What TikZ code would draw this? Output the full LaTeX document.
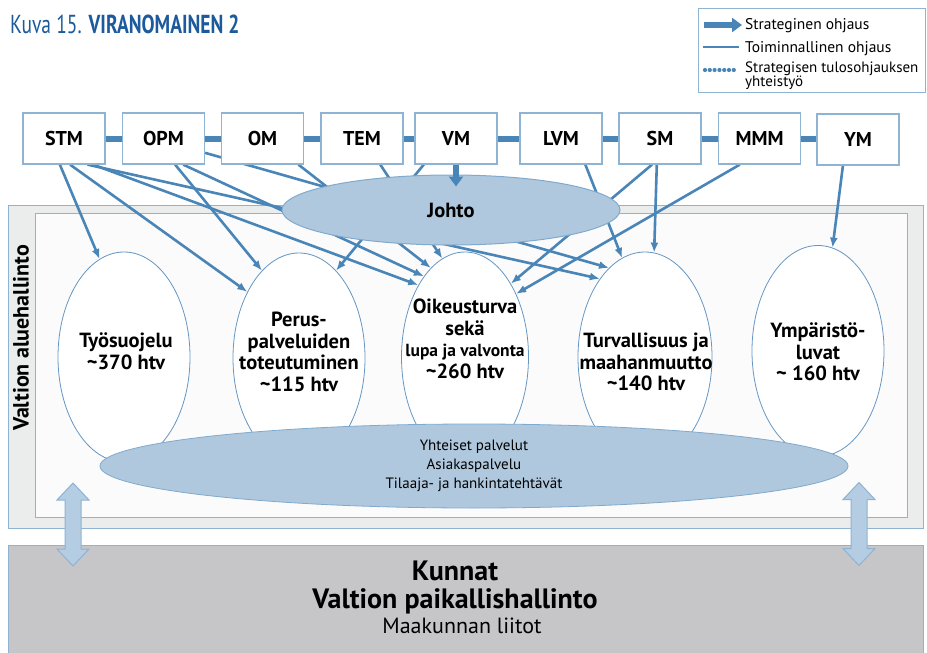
\documentclass[tikz,border=0pt]{standalone}
\usepackage{fontspec}
\setmainfont{PT Sans}
\newfontfamily\narrowfont[FakeStretch=0.75]{PT Sans}
\usetikzlibrary{shapes.geometric,arrows.meta}
\definecolor{lineblue}{RGB}{74,133,184}
\definecolor{edgeblue}{RGB}{143,179,211}
\definecolor{paleblue}{RGB}{175,200,221}
\definecolor{arrowfill}{RGB}{180,205,226}
\definecolor{titleblue}{RGB}{28,90,155}
\definecolor{panelgray}{RGB}{235,237,237}
\definecolor{innergray}{RGB}{251,251,251}
\definecolor{basegray}{RGB}{198,198,200}
\pgfdeclarelayer{bg}
\pgfdeclarelayer{lines}
\pgfsetlayers{bg,lines,main}

\begin{document}
\begin{tikzpicture}[x=1pt,y=-1pt,
  ministry/.style={draw=edgeblue,fill=white,line width=1.2pt,minimum width=82pt,minimum height=51pt,inner sep=0pt,font=\fontsize{20}{22}\selectfont\bfseries},
  unit/.style={ellipse,draw=lineblue!85,fill=white,line width=0.8pt,minimum width=132pt,minimum height=210pt,inner sep=0pt},
  utext/.style={align=center,inner sep=0pt,font=\fontsize{20.5}{21.5}\selectfont\bfseries},
  oper/.style={lineblue,line width=2.6pt,-{Latex[length=10pt,width=8pt]}},
  strat/.style={lineblue,line width=6pt,-{Triangle[length=10pt,width=14pt]}},
  bar/.style={lineblue,line width=6pt},
  legtext/.style={anchor=base west,inner sep=0pt,font=\fontsize{15.5}{16}\selectfont},
  updown/.style={draw=edgeblue,fill=arrowfill,line width=1pt,line join=miter}]
\useasboundingbox (0,0) rectangle (927,653);

\node[anchor=base west,inner sep=0pt,text=titleblue,font=\narrowfont\fontsize{26}{28}\selectfont] (title) at (10,33) {Kuva 15. \textbf{VIRANOMAINEN 2}};

\node[draw=edgeblue,line width=1pt,minimum width=227pt,minimum height=84pt,anchor=north west] (legend) at (698,8) {};
\coordinate (sa) at (704,25);
\coordinate (sb) at (742,25);
\coordinate (ta) at (703,47);
\coordinate (tb) at (739,47);
\coordinate (ya) at (705,70);
\coordinate (yb) at (737,70);
\draw[strat] (sa) -- (sb);
\draw[lineblue,line width=2.6pt] (ta) -- (tb);
\draw[lineblue,line width=4.2pt,line cap=round,dash pattern=on 0pt off 4.8pt] (ya) -- (yb);
\node[legtext] (leg1) at (745,30) {Strateginen ohjaus};
\node[legtext] (leg2) at (745,52) {Toiminnallinen ohjaus};
\node[legtext,anchor=north west,align=left,font=\fontsize{15}{14}\selectfont] (leg3) at (745,62) {Strategisen tulosohjauksen\\yhteistyö};

\begin{pgfonlayer}{bg}
\node[draw=edgeblue,fill=panelgray,line width=1.2pt,minimum width=915pt,minimum height=323pt,anchor=north west] (outer) at (8,205) {};
\node[draw=edgeblue,fill=innergray,line width=1.2pt,minimum width=872pt,minimum height=304pt,anchor=north west] (inner) at (35,213) {};
\node[draw=edgeblue,fill=basegray,line width=1.2pt,minimum width=915pt,minimum height=130pt,anchor=north west] (kunnat) at (8,545) {};
\node[unit] (tyo) at (124,357) {};
\node[unit] (per) at (299,358) {};
\node[unit,minimum width=127pt] (oik) at (465,357) {};
\node[unit,minimum width=134pt] (tur) at (645,357) {};
\node[unit,minimum height=211pt] (ymp) at (818,351) {};
\node[ellipse,draw=lineblue!70,fill=paleblue,line width=0.8pt,minimum width=748pt,minimum height=84pt,inner sep=0pt,align=center,font=\fontsize{15}{19}\selectfont] (yht) at (474,466) {Yhteiset palvelut\\Asiakaspalvelu\\Tilaaja- ja hankintatehtävät};
\end{pgfonlayer}

\node[rotate=90,inner sep=0pt,font=\fontsize{22}{24}\selectfont\bfseries] (alue) at (21,338) {Valtion aluehallinto};

\node[utext] (tyotxt) at (126,351) {Työsuojelu\\\textasciitilde370 htv};
\node[utext] (pertxt) at (299,352) {Perus-\\palveluiden\\toteutuminen\\\textasciitilde115 htv};
\node[utext] (oiktxt) at (465,339) {Oikeusturva\\sekä\\{\fontsize{17.5}{21.5}\selectfont lupa ja valvonta}\\\textasciitilde260 htv};
\node[utext] (turtxt) at (646,362) {Turvallisuus ja\\maahanmuutto\\\textasciitilde140 htv};
\node[utext] (ymptxt) at (818,352) {Ympäristö-\\luvat\\\textasciitilde{} 160 htv};

\node[ellipse,draw=lineblue!70,fill=paleblue,line width=1pt,minimum width=338pt,minimum height=70pt,inner sep=0pt,font=\fontsize{20.5}{21}\selectfont\bfseries] (joh) at (451,210) {Johto};

\node[ministry] (stm) at (64,138.5) {STM};
\node[ministry] (opm) at (163.5,138.5) {OPM};
\node[ministry] (om) at (262.5,138.5) {OM};
\node[ministry] (tem) at (362,138.5) {TEM};
\node[ministry] (vm) at (456,138.5) {VM};
\node[ministry] (lvm) at (561,138.5) {LVM};
\node[ministry] (sm) at (660,138.5) {SM};
\node[ministry] (mmm) at (759.5,138.5) {MMM};
\node[ministry] (ym) at (858,139.5) {YM};

\draw[bar] (stm.east) -- (opm.west);
\draw[bar] (opm.east) -- (om.west);
\draw[bar] (om.east) -- (tem.west);
\draw[bar] (tem.east) -- (vm.west);
\draw[bar] (vm.east) -- (lvm.west);
\draw[bar] (lvm.east) -- (sm.west);
\draw[bar] (sm.east) -- (mmm.west);
\draw[bar] (mmm.east) -- (mmm.east -| ym.west);

\draw[strat] (vm.south) -- ([yshift=-12pt]vm.south |- joh.north);

\begin{pgfonlayer}{lines}
\draw[oper] (stm.-99) -- (tyo.104);
\draw[oper] (stm.-77) -- (per.128);
\draw[oper] (stm.-48) -- (tur.120);
\draw[oper] (stm.-42) -- (oik.123);
\draw[oper] (opm.-66) -- (per.113);
\draw[oper] (opm.-53) -- (oik.117);
\draw[oper] (opm.-19) -- (tur.112);
\draw[oper] (om.-36) -- (oik.111);
\draw[oper] (tem.-55) -- (oik.103);
\draw[oper] (vm.-141) -- (per.67);
\draw[oper] (lvm.-47) -- (tur.103);
\draw[oper] (sm.-107) -- (oik.58);
\draw[oper] (sm.-97) -- (tur.85);
\draw[oper] (mmm.-127) -- (oik.51);
\draw[oper] (ym.-120) -- (ymp.82);
\end{pgfonlayer}

\draw[updown,shift={(73,524.5)}] (0,-41.5) -- (16,-24.5) -- (8,-24.5) -- (8,24.5) -- (16,24.5) -- (0,41.5) -- (-16,24.5) -- (-8,24.5) -- (-8,-24.5) -- (-16,-24.5) -- cycle;
\draw[updown,shift={(859,524)}] (0,-41.5) -- (16,-24.5) -- (8,-24.5) -- (8,24.5) -- (16,24.5) -- (0,41.5) -- (-16,24.5) -- (-8,24.5) -- (-8,-24.5) -- (-16,-24.5) -- cycle;

\node[anchor=base,inner sep=0pt,font=\fontsize{28}{30}\selectfont\bfseries] (kun) at (455,580) {Kunnat};
\node[anchor=base,inner sep=0pt,font=\fontsize{28}{30}\selectfont\bfseries] (pai) at (455,608) {Valtion paikallishallinto};
\node[anchor=base,inner sep=0pt,font=\fontsize{22}{24}\selectfont] (maa) at (462,633) {Maakunnan liitot};
\end{tikzpicture}
\end{document}
